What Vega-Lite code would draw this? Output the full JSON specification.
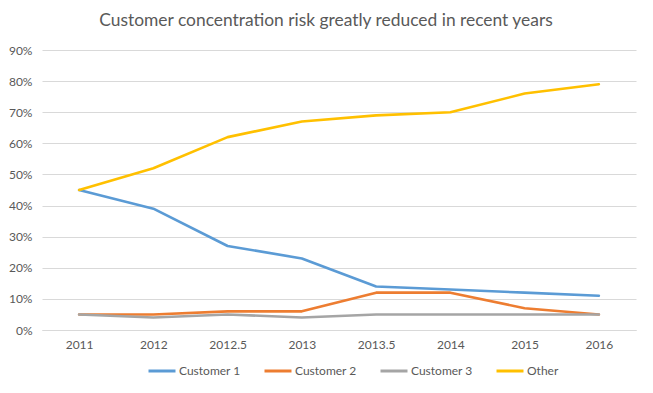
{
  "$schema": "https://vega.github.io/schema/vega-lite/v6.json",
  "width": 594,
  "height": 280,
  "autosize": {"type": "none"},
  "padding": {"left": 42, "top": 50, "right": 17, "bottom": 63},
  "background": "white",
  "title": {
    "text": "Customer concentration risk greatly reduced in recent years",
    "font": "Lato",
    "fontSize": 17.4,
    "fontWeight": "normal",
    "color": "#595959",
    "anchor": "middle",
    "dx": -13,
    "offset": 15
  },
  "data": {
    "values": [
      {"year": "2011", "series": "Customer 1", "value": 0.45},
      {"year": "2012", "series": "Customer 1", "value": 0.39},
      {"year": "2012.5", "series": "Customer 1", "value": 0.27},
      {"year": "2013", "series": "Customer 1", "value": 0.23},
      {"year": "2013.5", "series": "Customer 1", "value": 0.14},
      {"year": "2014", "series": "Customer 1", "value": 0.13},
      {"year": "2015", "series": "Customer 1", "value": 0.12},
      {"year": "2016", "series": "Customer 1", "value": 0.11},
      {"year": "2011", "series": "Customer 2", "value": 0.05},
      {"year": "2012", "series": "Customer 2", "value": 0.05},
      {"year": "2012.5", "series": "Customer 2", "value": 0.06},
      {"year": "2013", "series": "Customer 2", "value": 0.06},
      {"year": "2013.5", "series": "Customer 2", "value": 0.12},
      {"year": "2014", "series": "Customer 2", "value": 0.12},
      {"year": "2015", "series": "Customer 2", "value": 0.07},
      {"year": "2016", "series": "Customer 2", "value": 0.05},
      {"year": "2011", "series": "Customer 3", "value": 0.05},
      {"year": "2012", "series": "Customer 3", "value": 0.04},
      {"year": "2012.5", "series": "Customer 3", "value": 0.05},
      {"year": "2013", "series": "Customer 3", "value": 0.04},
      {"year": "2013.5", "series": "Customer 3", "value": 0.05},
      {"year": "2014", "series": "Customer 3", "value": 0.05},
      {"year": "2015", "series": "Customer 3", "value": 0.05},
      {"year": "2016", "series": "Customer 3", "value": 0.05},
      {"year": "2011", "series": "Other", "value": 0.45},
      {"year": "2012", "series": "Other", "value": 0.52},
      {"year": "2012.5", "series": "Other", "value": 0.62},
      {"year": "2013", "series": "Other", "value": 0.67},
      {"year": "2013.5", "series": "Other", "value": 0.69},
      {"year": "2014", "series": "Other", "value": 0.70},
      {"year": "2015", "series": "Other", "value": 0.76},
      {"year": "2016", "series": "Other", "value": 0.79}
    ]
  },
  "mark": {"type": "line", "strokeWidth": 2.6, "strokeCap": "round", "strokeJoin": "round"},
  "encoding": {
    "x": {
      "field": "year",
      "type": "ordinal",
      "sort": ["2011", "2012", "2012.5", "2013", "2013.5", "2014", "2015", "2016"],
      "scale": {"type": "point", "padding": 0.5},
      "axis": {
        "title": null,
        "labelAngle": 0,
        "labelFont": "Lato",
        "labelFontSize": 12,
        "labelColor": "#595959",
        "labelPadding": 9,
        "ticks": false,
        "domain": true,
        "domainColor": "#D9D9D9",
        "domainWidth": 1,
        "grid": false
      }
    },
    "y": {
      "field": "value",
      "type": "quantitative",
      "scale": {"domain": [0, 0.9], "nice": false},
      "axis": {
        "title": null,
        "format": ".0%",
        "values": [0, 0.1, 0.2, 0.3, 0.4, 0.5, 0.6, 0.7, 0.8, 0.9],
        "labelFont": "Lato",
        "labelFontSize": 12,
        "labelColor": "#595959",
        "labelPadding": 10,
        "ticks": false,
        "domain": false,
        "grid": true,
        "gridColor": "#D9D9D9",
        "gridWidth": 1
      }
    },
    "color": {
      "field": "series",
      "type": "nominal",
      "scale": {
        "domain": ["Customer 1", "Customer 2", "Customer 3", "Other"],
        "range": ["#5B9BD5", "#ED7D31", "#A5A5A5", "#FFC000"]
      },
      "legend": {
        "title": null,
        "orient": "none",
        "direction": "horizontal",
        "legendX": 105,
        "legendY": 306,
        "symbolType": "stroke",
        "symbolSize": 729,
        "symbolStrokeWidth": 3,
        "labelFont": "Lato",
        "labelFontSize": 12,
        "labelColor": "#595959",
        "labelOffset": 2,
        "columnPadding": 17
      }
    }
  },
  "config": {"view": {"stroke": null}}
}
